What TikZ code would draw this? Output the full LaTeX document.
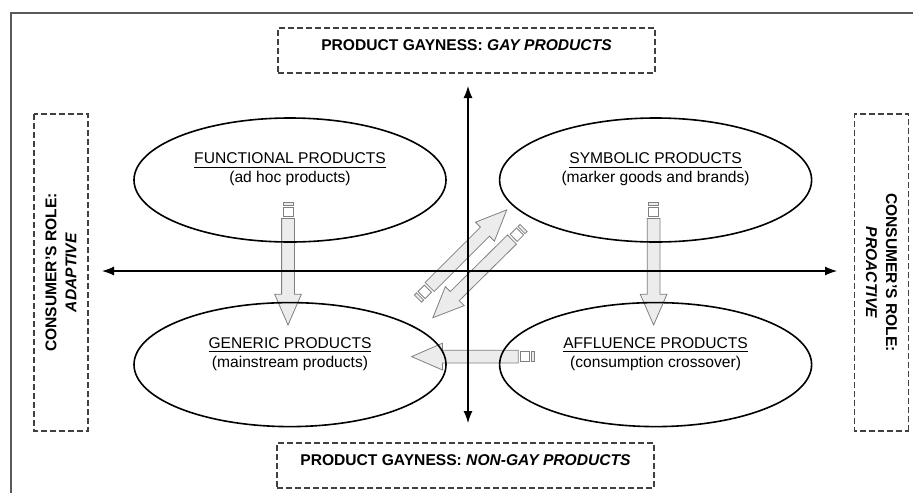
\documentclass[tikz,border=0pt]{standalone}
\usepackage{fontspec}
\setmainfont{Liberation Sans}
\usetikzlibrary{positioning,arrows.meta,calc,shapes.geometric,shapes.arrows,backgrounds}

% block arrow with the little tail marks, from tail #1 to tip #2
\newcommand{\blockarrow}[2]{%
  \path let \p1=($(#2)-(#1)$), \n1={atan2(\y1,\x1)}, \n2={veclen(\x1,\y1)} in
    node[tbar, rotate=\n1] at ($(#1)!0.75pt!(#2)$) {}
    node[tsq, rotate=\n1] at ($(#1)!4.75pt!(#2)$) {}
    node[barr, minimum height={\n2-8pt}, rotate=\n1, anchor=tail] at ($(#1)!8pt!(#2)$) {};
}

\begin{document}
\begin{tikzpicture}[
  x=0.5pt, y=-0.5pt,
  font=\fontsize{7.8}{9.5}\selectfont,
  node distance=29.5pt and 26pt,
  prod/.style={draw, ellipse, line width=0.8pt, minimum width=156pt, minimum height=62pt, inner sep=1pt, align=center, text depth=12pt},
  dbox/.style={draw=black!75, dash pattern=on 3pt off 1.5pt, line width=0.6pt, font=\fontsize{7.8}{10}\selectfont\bfseries, align=center},
  ax/.style={{Latex[length=6pt,width=4.5pt]}-{Latex[length=6pt,width=4.5pt]}, line width=0.6pt},
  frm/.style={draw=black!65, line width=1.3pt},
  barr/.style={single arrow, draw=gray, fill=gray!15, line width=0.4pt, inner sep=3pt, minimum width=0pt, single arrow head extend=3.5pt, single arrow tip angle=47, single arrow head indent=0pt},
  tbar/.style={draw=gray, fill=gray!15, line width=0.4pt, rectangle, inner sep=0pt, minimum width=1.5pt, minimum height=5pt},
  tsq/.style={draw=gray, fill=white, line width=0.4pt, rectangle, inner sep=0pt, minimum width=4.5pt, minimum height=5pt}
]
  \useasboundingbox (0,0) rectangle (913,493);
  \draw[frm] (11,493) -- (11,13) -- (913,13);

  % the four kinds of products
  \node[prod] (func) at (290,180) {\underline{FUNCTIONAL PRODUCTS}\\(ad hoc products)};
  \node[prod, right=of func] (symb) {\underline{SYMBOLIC PRODUCTS}\\(marker goods and brands)};
  \node[prod, below=of func] (gen) {\underline{GENERIC PRODUCTS}\\(mainstream products)};
  \node[prod, below=of symb] (aff) {\underline{AFFLUENCE PRODUCTS}\\(consumption crossover)};

  % dimensions
  \node[dbox, minimum width=188.5pt, minimum height=22.5pt, text height=4pt, text depth=4pt] (gay) at (466.5,50.5) {PRODUCT GAYNESS: \textit{GAY PRODUCTS}};
  \node[dbox, minimum width=188.5pt, minimum height=22.5pt, text height=4pt, text depth=4pt] (nongay) at (465.5,465.5) {PRODUCT GAYNESS: \textit{NON-GAY PRODUCTS}};
  \node[dbox, rotate=90, minimum width=158.5pt, minimum height=27pt] (adapt) at (61,272.5) {CONSUMER'S ROLE:\\\textit{ADAPTIVE}};
  \node[dbox, rotate=-90, minimum width=158.5pt, minimum height=27pt] (proact) at (881.5,272.5) {CONSUMER'S ROLE:\\\textit{PROACTIVE}};

  \coordinate (n) at (468,86);
  \coordinate (s) at (468,423);
  \coordinate (w) at (102,271);
  \coordinate (e) at (837,271);
  \draw[ax] (n) -- (s);
  \draw[ax] (w) -- (e);

  % moves between the quadrants
  \coordinate (f1) at ($(func.center)+(-2,22)$);
  \coordinate (g1) at ($(gen.center)+(-2,-40)$);
  \coordinate (s1) at ($(symb.center)+(-2,22)$);
  \coordinate (a1) at ($(aff.center)+(-2,-40)$);
  \coordinate (a2) at ($(aff.center)+(-121,-8)$);
  \coordinate (g2) at ($(gen.center)+(122,-8)$);
  \coordinate (g3) at ($(gen.center)+(128,-66)$);
  \coordinate (s2) at ($(symb.center)+(-149,30)$);
  \coordinate (s3) at ($(symb.center)+(-132,48)$);
  \coordinate (g4) at ($(gen.center)+(143,-47)$);
  \begin{scope}[on background layer]
    \blockarrow{f1}{g1}
    \blockarrow{s1}{a1}
    \blockarrow{a2}{g2}
    \blockarrow{g3}{s2}
    \blockarrow{s3}{g4}
  \end{scope}
\end{tikzpicture}
\end{document}
